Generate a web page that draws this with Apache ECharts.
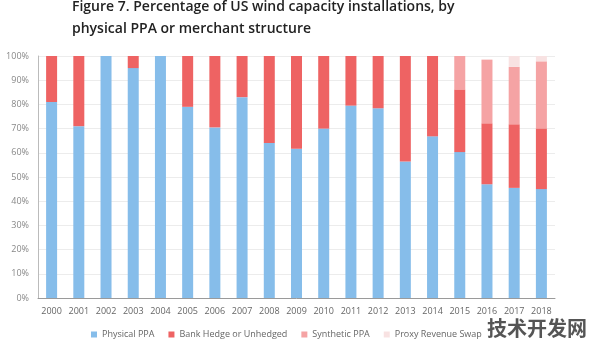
<!DOCTYPE html>
<html>
<head>
<meta charset="utf-8">
<script src="https://cdn.jsdelivr.net/npm/echarts@6/dist/echarts.min.js"></script>
<style>
  html, body { margin: 0; padding: 0; background: #fff; }
  #chart { width: 596px; height: 346px; }
</style>
</head>
<body>
<div id="chart"></div>
<script>
// Share of US wind capacity installations by offtake structure, %
const years = ['2000','2001','2002','2003','2004','2005','2006','2007','2008','2009',
               '2010','2011','2012','2013','2014','2015','2016','2017','2018'];
const physicalPPA = [81, 71, 100, 95, 100, 79, 70.5, 83, 64, 61.7, 70, 79.5, 78.4, 56.4, 66.8, 60.3, 47, 45.5, 45];
const bankHedge   = [19, 29, 0, 5, 0, 21, 29.5, 17, 36, 38.3, 30, 20.5, 21.6, 43.6, 33.2, 25.9, 25.2, 26.3, 25.1];
const syntheticPPA = [0, 0, 0, 0, 0, 0, 0, 0, 0, 0, 0, 0, 0, 0, 0, 13.8, 26.3, 23.7, 27.7];
const proxySwap    = [0, 0, 0, 0, 0, 0, 0, 0, 0, 0, 0, 0, 0, 0, 0, 0, 0, 4.5, 2.2];
const yTicks = [0, 10, 20, 30, 40, 50, 60, 70, 80, 90, 100];

const font = '"Open Sans", Lato, sans-serif';
const chart = echarts.init(document.getElementById('chart'));

function bar(name, data, color) {
  return {
    name, type: 'bar', stack: 'total', data,
    barWidth: 11,
    itemStyle: { color },
    emphasis: { disabled: true }
  };
}

chart.setOption({
  animation: false,
  textStyle: { fontFamily: font },
  title: {
    text: 'Figure 7. Percentage of US wind capacity installations, by\nphysical PPA or merchant structure',
    left: 72, top: -4, padding: 0,
    textStyle: { fontSize: 14, fontWeight: 600, color: '#222', lineHeight: 22, fontFamily: font }
  },
  grid: { left: 38, right: 41, top: 56, bottom: 48, containLabel: false },
  legend: {
    bottom: 2, left: 86,
    itemWidth: 6, itemHeight: 6, itemGap: 14,
    icon: 'rect',
    textStyle: { fontSize: 9, color: '#666', fontFamily: font },
    data: ['Physical PPA', 'Bank Hedge or Unhedged', 'Synthetic PPA', 'Proxy Revenue Swap']
  },
  xAxis: {
    type: 'category', data: years,
    axisLine: { lineStyle: { color: '#9a9a9a' } },
    axisTick: { show: false },
    axisLabel: { fontSize: 9, color: '#666', margin: 9, interval: 0 }
  },
  yAxis: {
    type: 'value', min: 0, max: 100, interval: 10,
    axisLine: { show: true, lineStyle: { color: '#bbb' } },
    axisTick: { show: false },
    splitLine: { lineStyle: { color: '#ececec' } },
    axisLabel: {
      fontSize: 9, color: '#888', margin: 9,
      formatter: v => yTicks.includes(v) ? v + '%' : ''
    }
  },
  series: [
    bar('Physical PPA', physicalPPA, '#86bdea'),
    bar('Bank Hedge or Unhedged', bankHedge, '#ee6363'),
    bar('Synthetic PPA', syntheticPPA, '#f5a3a4'),
    bar('Proxy Revenue Swap', proxySwap, '#f8e2e2')
  ],
  graphic: [{
    type: 'text', left: 487, top: 318,
    style: { text: '技术开发网', fontSize: 20, fontWeight: 'bold', fill: '#555', fontFamily: '"Noto Sans CJK SC", sans-serif' }
  }]
});
</script>
</body>
</html>
